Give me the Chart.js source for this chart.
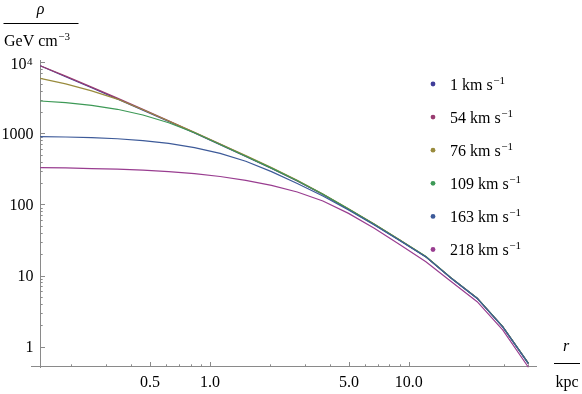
<!DOCTYPE html>
<html><head><meta charset="utf-8">
<script src="https://cdn.jsdelivr.net/npm/chart.js@4.4.0/dist/chart.umd.min.js"></script>
<style>html,body{margin:0;padding:0;background:#fff;} #wrap{position:relative;width:582px;height:394px;}</style>
</head><body><div id="wrap"><canvas id="c" width="582" height="394"></canvas></div>
<script>
// r in kpc
const radius = [0.14, 0.188, 0.254, 0.342, 0.46, 0.62, 0.836, 1.125, 1.514, 2.04, 2.75, 3.7, 4.98, 6.71, 9.04, 12.2, 16.4, 22.1, 29.7, 40.0];
// rho in GeV cm^-3, one array per velocity dispersion
const rho_1   = [9000, 6310, 4410, 3070, 2130, 1476, 1016, 697, 475, 323, 214, 138, 85.5, 52.4, 31.1, 18.3, 9.12, 4.78, 1.90, 0.58];
const rho_54  = [9000, 6420, 4500, 3150, 2190, 1510, 1035, 708, 482, 327, 216, 139, 86.0, 52.8, 31.3, 18.4, 9.15, 4.79, 1.90, 0.58];
const rho_76  = [5980, 5010, 3980, 3055, 2163, 1503, 1038, 713, 488, 331, 219, 141, 87.1, 53.2, 31.6, 18.5, 9.18, 4.80, 1.91, 0.58];
const rho_109 = [2870, 2716, 2495, 2193, 1824, 1419, 1023, 701, 479, 325, 216, 139, 86.1, 52.7, 31.3, 18.5, 9.16, 4.79, 1.905, 0.58];
const rho_163 = [901, 893, 875, 843, 794, 724, 634, 525, 407, 290, 198, 132, 83.6, 51.5, 30.9, 18.3, 9.08, 4.75, 1.89, 0.575];
const rho_218 = [330, 327, 321, 314, 304, 290, 272, 248, 219, 186, 150, 112, 75.0, 46.2, 27.2, 15.6, 8.18, 4.28, 1.71, 0.51];
const velocities = ['1', '54', '76', '109', '163', '218'];

const xMajorTicks = [0.5, 1, 5, 10];
const xTickLabels = ['0.5', '1.0', '5.0', '10.0'];
const xMinorTicks = [0.2, 0.3, 0.4, 0.6, 0.7, 0.8, 0.9, 2, 3, 4, 6, 7, 8, 9, 20, 30, 40];
const yMajorTicks = [1, 10, 100, 1000, 10000];
const yTickLabels = ['1', '10', '100', '1000', '10^4'];
const yMinorTicks = [2, 3, 4, 5, 6, 7, 8, 9, 20, 30, 40, 50, 60, 70, 80, 90, 200, 300, 400, 500, 600, 700, 800, 900, 2000, 3000, 4000, 5000, 6000, 7000, 8000, 9000];

const series = [rho_1, rho_54, rho_76, rho_109, rho_163, rho_218];
const colors = ['#3F3D99', '#993D71', '#998B3D', '#3D9956', '#3D5A99', '#993D90'];
const AXIS_R = 0.14, AXIS_RHO = 0.531;
const FONT = '"Liberation Serif", "Times New Roman", serif';

const axesPlugin = {
  id: 'mmaAxes',
  beforeDatasetsDraw(chart) {
    const {ctx, chartArea: ca, scales: {x, y}} = chart;
    const ax = Math.round(x.getPixelForValue(AXIS_R)) + 0.5;
    const ay = Math.round(y.getPixelForValue(AXIS_RHO)) + 0.5;
    ctx.save();
    ctx.strokeStyle = '#8a8a8a';
    ctx.lineWidth = 1;
    ctx.beginPath();
    ctx.moveTo(ca.left, ay); ctx.lineTo(ca.right, ay);
    ctx.moveTo(ax, ca.top); ctx.lineTo(ax, ca.bottom);
    xMajorTicks.forEach(v => { const px = Math.round(x.getPixelForValue(v)) + 0.5; ctx.moveTo(px, ay); ctx.lineTo(px, ay - 4.5); });
    xMinorTicks.forEach(v => { const px = Math.round(x.getPixelForValue(v)) + 0.5; ctx.moveTo(px, ay); ctx.lineTo(px, ay - 2.2); });
    yMajorTicks.forEach(v => { const py = Math.round(y.getPixelForValue(v)) + 0.5; ctx.moveTo(ax, py); ctx.lineTo(ax + 4.5, py); });
    yMinorTicks.forEach(v => { const py = Math.round(y.getPixelForValue(v)) + 0.5; ctx.moveTo(ax, py); ctx.lineTo(ax + 2.2, py); });
    ctx.stroke();

    ctx.fillStyle = '#000';
    ctx.font = '16px ' + FONT;
    ctx.textBaseline = 'alphabetic';
    ctx.textAlign = 'center';
    xMajorTicks.forEach((v, i) => ctx.fillText(xTickLabels[i], x.getPixelForValue(v), 387));
    yMajorTicks.forEach((v, i) => {
      const py = y.getPixelForValue(v);
      const lab = yTickLabels[i];
      if (lab.indexOf('^') >= 0) {
        const [b, e] = lab.split('^');
        ctx.textAlign = 'right';
        ctx.font = '16px ' + FONT;
        ctx.fillText(b, 26.5, py + 6.5);
        ctx.textAlign = 'left';
        ctx.font = '11px ' + FONT;
        ctx.fillText(e, 27, py + 2.5);
      } else {
        ctx.textAlign = 'right';
        ctx.font = '16px ' + FONT;
        ctx.fillText(lab, 33.5, py + 5.5);
      }
    });

    ctx.textAlign = 'center';
    ctx.font = 'italic 16px ' + FONT;
    ctx.fillText('ρ', 40.5, 14);
    ctx.font = '16px ' + FONT;
    ctx.textAlign = 'left';
    ctx.fillText('GeV cm', 4, 46);
    const w = ctx.measureText('GeV cm').width;
    ctx.font = '11px ' + FONT;
    ctx.fillText('\u22123', 4 + w + 0.5, 40);
    ctx.strokeStyle = '#000';
    ctx.beginPath(); ctx.moveTo(3.5, 23.5); ctx.lineTo(78.5, 23.5); ctx.stroke();

    ctx.textAlign = 'center';
    ctx.font = 'italic 16px ' + FONT;
    ctx.fillText('r', 566, 350.5);
    ctx.beginPath(); ctx.moveTo(554, 363.5); ctx.lineTo(580, 363.5); ctx.stroke();
    ctx.font = '16px ' + FONT;
    ctx.fillText('kpc', 567, 387);
    ctx.restore();
  },
  afterDraw(chart) {
    const {ctx} = chart;
    ctx.save();
    chart.data.datasets.forEach((ds, i) => {
      const cy = 84 + 33.1 * i;
      ctx.fillStyle = ds.borderColor;
      ctx.beginPath(); ctx.arc(433, cy, 2.4, 0, Math.PI * 2); ctx.fill();
      ctx.fillStyle = '#000';
      ctx.textAlign = 'left';
      ctx.font = '16px ' + FONT;
      const t = velocities[i] + ' km s';
      ctx.fillText(t, 450, cy + 5.8);
      const w = ctx.measureText(t).width;
      ctx.font = '11px ' + FONT;
      ctx.fillText('\u22121', 450 + w + 0.5, cy - 0.2);
    });
    ctx.restore();
  }
};

new Chart(document.getElementById('c').getContext('2d'), {
  type: 'scatter',
  data: {
    datasets: series.map((s, i) => ({
      label: velocities[i] + ' km s\u207B\u00B9',
      data: radius.map((r, j) => ({x: r, y: s[j]})),
      showLine: true,
      borderColor: colors[i],
      backgroundColor: colors[i],
      borderWidth: 1.2,
      pointRadius: 0,
      tension: 0,
      fill: false,
      order: 5 - i
    }))
  },
  options: {
    responsive: false,
    animation: false,
    devicePixelRatio: 1,
    layout: {padding: {left: 31, right: 45, top: 60, bottom: 26}},
    plugins: {legend: {display: false}, tooltip: {enabled: false}},
    scales: {
      x: {type: 'logarithmic', min: 0.1258, max: 44.2, bounds: 'data', display: false},
      y: {type: 'logarithmic', min: 0.498, max: 10843, bounds: 'data', display: false}
    }
  },
  plugins: [axesPlugin]
});
</script>
</body></html>
